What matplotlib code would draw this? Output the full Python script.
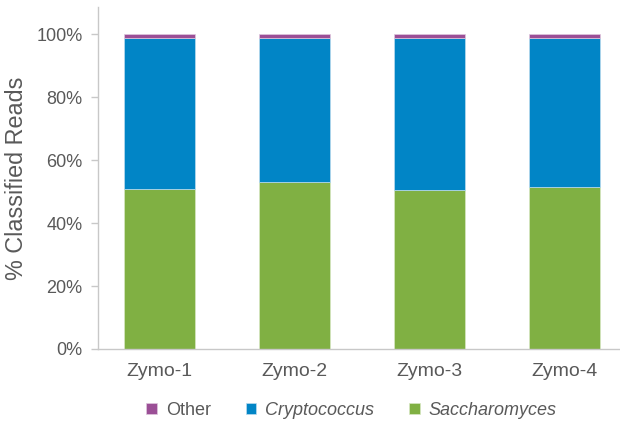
import matplotlib.pyplot as plt
import numpy as np

samples = ['Zymo-1', 'Zymo-2', 'Zymo-3', 'Zymo-4']
saccharomyces = [50.8, 52.9, 50.5, 51.4]
cryptococcus = [48.1, 46.0, 48.4, 47.5]
other = [1.2, 1.2, 1.2, 1.2]

c_other = '#9B4F96'
c_crypto = '#0185C6'
c_sacch = '#80B043'
grey = '#595959'

plt.rcParams['font.family'] = ['Liberation Sans', 'DejaVu Sans']

fig = plt.figure(figsize=(6.2, 4.22), dpi=100)
ax = fig.add_axes([0.158, 0.173, 0.842, 0.81])

x = np.arange(len(samples))
w = 0.526
b1 = ax.bar(x, saccharomyces, w, color=c_sacch, edgecolor='#d8e8c4', linewidth=0.5)
bottom2 = np.array(saccharomyces)
b2 = ax.bar(x, cryptococcus, w, bottom=bottom2, color=c_crypto, edgecolor='#bcdcee', linewidth=0.5)
bottom3 = bottom2 + np.array(cryptococcus)
b3 = ax.bar(x, other, w, bottom=bottom3, color=c_other, edgecolor='#e0c8de', linewidth=0.5)

ax.set_xlim(-0.458, 3.409)
ax.set_ylim(0, 108.6)
ax.set_yticks([0, 20, 40, 60, 80, 100])
ax.set_yticklabels(['0%', '20%', '40%', '60%', '80%', '100%'])
ax.set_xticks(x)
ax.set_xticklabels(samples)

for s in ['top', 'right']:
    ax.spines[s].set_visible(False)
for s in ['left', 'bottom']:
    ax.spines[s].set_color('#c8c8c8')
    ax.spines[s].set_linewidth(1.0)

ax.tick_params(axis='y', colors='#c8c8c8', labelcolor=grey, labelsize=13, length=5, width=1, pad=6)
ax.tick_params(axis='x', length=0, labelcolor=grey, labelsize=14, pad=10)
ax.set_ylabel('% Classified Reads', color=grey, fontsize=16.8, labelpad=6)

handles = [b3, b2, b1]
labels = ['Other', 'Cryptococcus', 'Saccharomyces']
leg = fig.legend(handles, labels, loc='center', bbox_to_anchor=(0.567, 0.028), ncol=3,
                 frameon=False, fontsize=13, handlelength=0.6, handleheight=0.6,
                 handletextpad=0.5, columnspacing=1.9)
for t in leg.get_texts():
    t.set_color(grey)
leg.get_texts()[1].set_style('italic')
leg.get_texts()[2].set_style('italic')

plt.savefig('out.png', dpi=100)
